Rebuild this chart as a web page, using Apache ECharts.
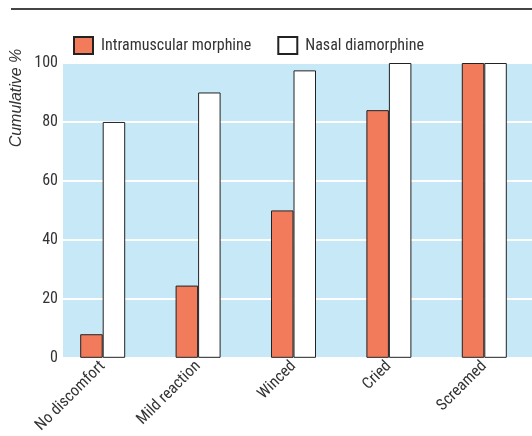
<!DOCTYPE html>
<html><head><meta charset="utf-8">
<script src="https://cdn.jsdelivr.net/npm/echarts@6/dist/echarts.min.js"></script>
<style>html,body{margin:0;padding:0;background:#fff}#c{width:532px;height:436px}</style>
</head><body><div id="c"></div>
<script>
const categories = ['No discomfort', 'Mild reaction', 'Winced', 'Cried', 'Screamed'];
const intramuscular = [8, 24.5, 50, 84, 100];
const nasal = [80, 90, 97.5, 100, 100];
const yTicks = [0, 20, 40, 60, 80, 100];

const font = "'Liberation Sans Narrow', 'Roboto Condensed', 'Liberation Sans', sans-serif";
const chart = echarts.init(document.getElementById('c'));
chart.setOption({
  animation: false,
  textStyle: { fontFamily: font },
  graphic: [
    { type: 'line', shape: { x1: 11, y1: 9, x2: 532, y2: 9 }, style: { stroke: '#444', lineWidth: 2 } },
    { type: 'text', x: 17, y: 98, rotation: Math.PI / 2,
      style: { text: 'Cumulative %', font: "italic 16px 'Liberation Sans Narrow', sans-serif", fill: '#333', align: 'center', verticalAlign: 'middle' } }
  ],
  legend: {
    left: 73, top: 36, padding: 0, itemWidth: 19, itemHeight: 17, itemGap: 26,
    textStyle: { fontSize: 16, color: '#333', fontFamily: font, padding: [0, 0, 0, 3] },
    data: [{ name: 'Intramuscular morphine', icon: 'rect' }, { name: 'Nasal diamorphine', icon: 'rect' }]
  },
  grid: [
    { left: 63, right: 0, top: 63, bottom: 78, show: true, backgroundColor: '#c6e8f7', borderWidth: 0 },
    { left: 55, width: 482.5, top: 63, bottom: 78 }
  ],
  xAxis: [
    { gridIndex: 0, type: 'category', data: categories, show: false },
    { gridIndex: 1, type: 'category', data: categories,
      axisLine: { show: false }, axisTick: { show: false },
      axisLabel: { rotate: 45, fontSize: 16, color: '#333', margin: 6, fontFamily: font } }
  ],
  yAxis: [
    { gridIndex: 0, type: 'value', min: yTicks[0], max: yTicks[yTicks.length - 1], interval: 20,
      axisLine: { show: false }, axisTick: { show: false },
      axisLabel: { fontSize: 16, color: '#333', margin: 5, fontFamily: font },
      splitLine: { show: true, lineStyle: { color: '#fff', width: 2 } } },
    { gridIndex: 1, type: 'value', min: 0, max: 100, show: false, splitLine: { show: false } }
  ],
  series: [
    { name: 'Intramuscular morphine', type: 'bar', xAxisIndex: 1, yAxisIndex: 1, data: intramuscular,
      barWidth: 22.5, barGap: '0%', itemStyle: { color: '#f27b5b', borderColor: '#222', borderWidth: 1 } },
    { name: 'Nasal diamorphine', type: 'bar', xAxisIndex: 1, yAxisIndex: 1, data: nasal,
      barWidth: 22.5, barGap: '0%', itemStyle: { color: '#ffffff', borderColor: '#222', borderWidth: 1 } }
  ]
});
</script></body></html>
